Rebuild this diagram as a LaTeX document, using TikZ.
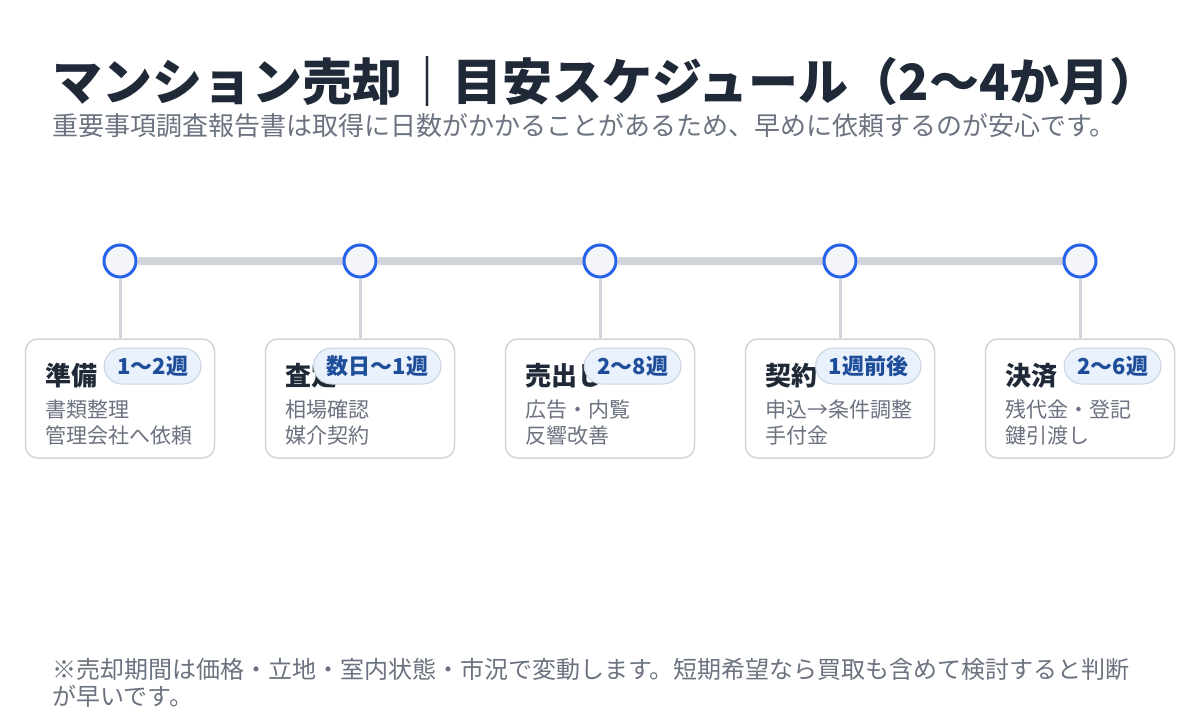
\documentclass[tikz,border=0pt]{standalone}
\usepackage{fontspec}
\setmainfont{Noto Sans CJK JP}
\usepackage{tikz}
\usetikzlibrary{positioning}
\usetikzlibrary{backgrounds}
\definecolor{ink}{HTML}{1F2937}
\definecolor{muted}{HTML}{6B7280}
\definecolor{rail}{HTML}{D1D5DB}
\definecolor{accent}{HTML}{2563EB}
\definecolor{dotfill}{HTML}{F3F5F9}
\definecolor{badgefill}{HTML}{E8F1FC}
\definecolor{badgeline}{HTML}{C9D3E1}
\definecolor{badgetext}{HTML}{1E4E9A}

\begin{document}
\begin{tikzpicture}[x=1pt,y=-1pt,
	dot/.style={circle,draw=accent,line width=3pt,fill=dotfill,minimum size=32pt,inner sep=0pt},
	card/.style={draw=rail,line width=1.5pt,rounded corners=12pt,fill=white,minimum width=189pt,minimum height=119pt},
	cardtitle/.style={inner sep=0pt,text=ink,font=\fontsize{26}{26}\selectfont\bfseries},
	badge/.style={draw=badgeline,line width=1pt,fill=badgefill,rounded corners=18pt,minimum height=36pt,inner xsep=13pt,inner ysep=0pt,text=badgetext,font=\fontsize{22}{22}\selectfont\bfseries},
	desc/.style={inner sep=0pt,text=muted,font=\fontsize{21}{21}\selectfont},
	note/.style={inner sep=0pt,text=muted,font=\fontsize{24}{24}\selectfont},
	spine/.style={draw=rail,line width=8pt},
	stem/.style={draw=rail,line width=3pt}]
	\useasboundingbox (0,0) rectangle (1200,720);
	\node[anchor=base west,inner sep=0pt,text=ink,font=\fontsize{50}{50}\selectfont\bfseries] (title) at (52,100) {マンション売却｜目安スケジュール（2〜4か月）};
	\node[anchor=base west,inner sep=0pt,text=muted,font=\fontsize{26}{26}\selectfont] (subtitle) at (52,135) {重要事項調査報告書は取得に日数がかかることがあるため、早めに依頼するのが安心です。};
	\foreach \i/\x/\ttl/\bdg/\la/\lb in {1/120/準備/1〜2週/書類整理/管理会社へ依頼,2/360/査定/数日〜1週/相場確認/媒介契約,3/600/売出し/2〜8週/広告・内覧/反響改善,4/840/契約/1週前後/申込→条件調整/手付金,5/1080/決済/2〜6週/残代金・登記/鍵引渡し} {
		\node[dot] (dot\i) at (\x,261) {};
		\node[card] (card\i) at (\x,398.5) {};
		\node[cardtitle,anchor=base west] (ttl\i) at (\x-75,385) {\ttl};
		\node[badge,anchor=east] (bdg\i) at (\x+81.5,366) {\bdg};
		\node[desc,anchor=base west] (la\i) at (\x-75,417) {\la};
		\node[desc,anchor=base west] (lb\i) at (\x-75,443) {\lb};
	}
	\begin{scope}[on background layer]
		\fill[white] (0,0) rectangle (1200,720);
		\foreach \i [count=\j from 2] in {1,...,4}
			\draw[spine] (dot\i) -- (dot\j);
		\foreach \i in {1,...,5}
			\draw[stem] (dot\i) -- (card\i);
	\end{scope}
	\node[note,anchor=base west] (note1) at (52,678) {※売却期間は価格・立地・室内状態・市況で変動します。短期希望なら買取も含めて検討すると判断};
	\node[note,anchor=base west] (note2) at (52,705) {が早いです。};
\end{tikzpicture}
\end{document}
